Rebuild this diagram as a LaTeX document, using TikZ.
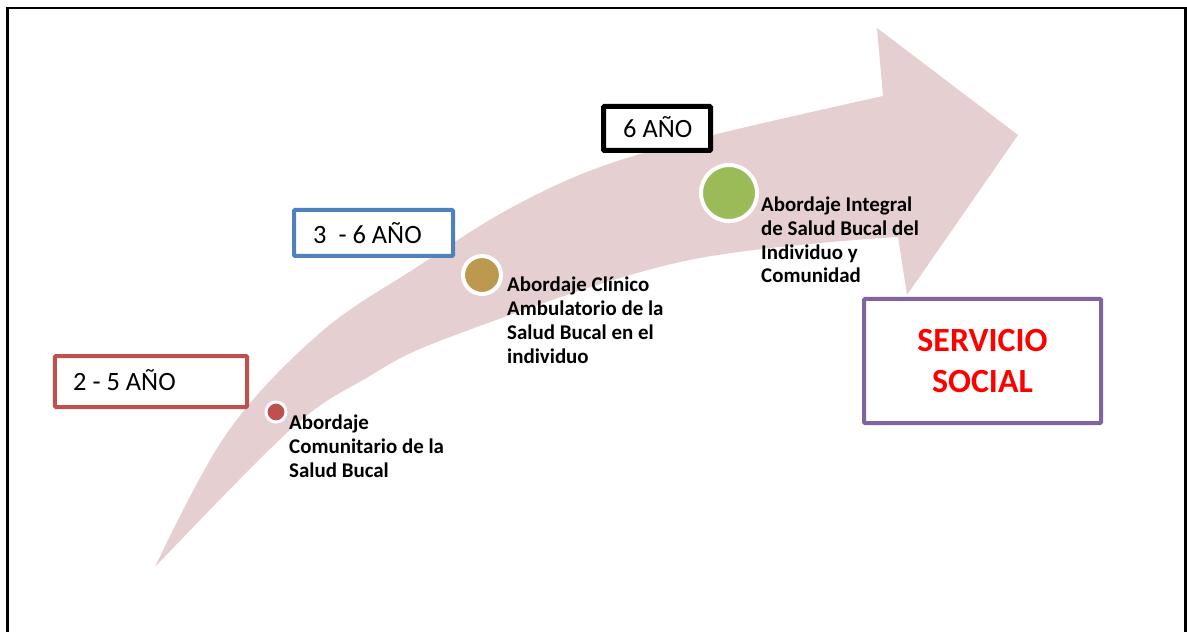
\documentclass[tikz,border=0pt]{standalone}
\usepackage{fontspec}
\setmainfont{Carlito}
\definecolor{arrowpink}{RGB}{230,207,208}
\definecolor{boxred}{RGB}{192,80,77}
\definecolor{boxblue}{RGB}{79,129,189}
\definecolor{boxpurple}{RGB}{128,100,162}
\definecolor{dotred}{RGB}{192,80,77}
\definecolor{dottan}{RGB}{189,153,80}
\definecolor{dotgreen}{RGB}{155,187,89}
\tikzset{
  yearbox/.style={draw, rounded corners=1bp, inner sep=0pt, fill=white},
  yeartext/.style={anchor=base west, inner sep=0pt, font=\fontsize{26.5}{30}\selectfont},
  dotnode/.style={circle, draw=white, inner sep=0pt},
  labeltext/.style={anchor=base west, inner sep=0pt, align=left, font=\fontsize{21}{23.8}\selectfont\bfseries},
}
\begin{document}
\begin{tikzpicture}[x=1bp,y=-1bp]
\useasboundingbox (0,0) rectangle (1187,632);
% frame
\draw[line width=2.5bp] (7.5,640) -- (7.5,8) -- (1185.5,8) -- (1185.5,640);
% curved arrow
\fill[arrowpink] plot[smooth, tension=0.6] coordinates {(155,567) (227,433) (320,333) (417,267) (507,210) (600,167) (713,135) (883,96)}
  -- (877,28) -- (1018,135) -- (907,295)
  -- plot[smooth, tension=0.6] coordinates {(898,237) (680,262) (450,337) (363,380) (290,430) (155,567)} -- cycle;
% year boxes
\node[yearbox, draw=boxred, line width=4bp, minimum width=192bp, minimum height=51bp] (b1) at (151,381.5) {};
\node[yeartext] (t1) at (73,390) {2 - 5 AÑO};
\node[yearbox, draw=boxblue, line width=4bp, minimum width=159bp, minimum height=46bp] (b2) at (373.5,233) {};
\node[yeartext] (t2) at (313,244) {3~~- 6 AÑO};
\node[yearbox, draw=black, line width=5bp, minimum width=107bp, minimum height=44bp] (b3) at (657,128.5) {};
\node[yeartext] (t3) at (623,138) {6 AÑO};
\node[yearbox, draw=boxpurple, line width=4bp, minimum width=237bp, minimum height=124bp, text=red, align=center, font=\fontsize{34}{42}\selectfont\bfseries] (b4) at (982.5,361) {SERVICIO\\SOCIAL};
% dots
\node[dotnode, fill=dotred, line width=3bp, minimum size=20bp] (c1) at (276,412) {};
\node[dotnode, fill=dottan, line width=4bp, minimum size=38bp] (c2) at (482,275) {};
\node[dotnode, fill=dotgreen, line width=4bp, minimum size=56bp] (c3) at (729,193) {};
% labels (anchored at the baseline of the last line)
\node[labeltext] (l1) at (289,477) {Abordaje\\Comunitario de la\\Salud Bucal};
\node[labeltext] (l2) at (507,363) {Abordaje Clínico\\Ambulatorio de la\\Salud Bucal en el\\individuo};
\node[labeltext] (l3) at (761,283) {Abordaje Integral\\de Salud Bucal del\\Individuo y\\Comunidad};
\end{tikzpicture}
\end{document}
